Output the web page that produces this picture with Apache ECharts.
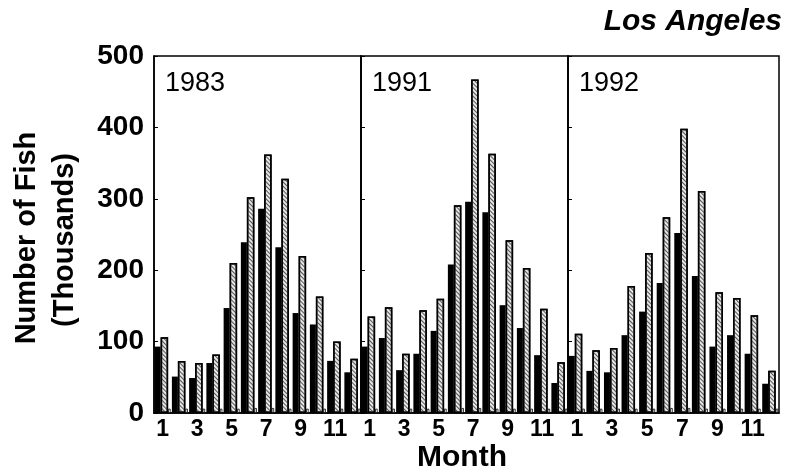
<!DOCTYPE html>
<html>
<head>
<meta charset="utf-8">
<script src="https://cdn.jsdelivr.net/npm/echarts@6/dist/echarts.min.js"></script>
<style>
html,body{margin:0;padding:0;background:#fff;}
#c{width:787px;height:475px;}
</style>
</head>
<body>
<div id="c"></div>
<script>
var months = ['1','2','3','4','5','6','7','8','9','10','11','12'];
var yTicks = [0,100,200,300,400,500];
var years = ['1983','1991','1992'];
var dark1983  = [93,51,49,70,147,239,286,232,140,124,73,57];
var light1983 = [106,73,70,82,210,302,362,328,220,163,100,76];
var small1983 = [6,6,6,6,6,7,7,6,6,6,6,6];
var dark1991  = [93,105,60,83,115,208,296,281,151,119,81,42];
var light1991 = [135,148,83,144,160,291,467,363,242,203,146,71];
var small1991 = [6,6,6,6,6,7,7,6,6,6,6,6];
var dark1992  = [80,59,57,109,142,182,252,192,93,109,83,41];
var light1992 = [111,88,91,178,224,274,398,311,169,161,137,59];
var small1992 = [6,6,6,6,6,7,7,6,6,6,6,6];

var darkSets = [dark1983, dark1991, dark1992];
var lightSets = [light1983, light1991, light1992];
var smallSets = [small1983, small1991, small1992];

var chart = echarts.init(document.getElementById('c'));
var FONT = '"Liberation Sans", Arial, Helvetica, sans-serif';
var gridLefts = [154, 361, 568];
var gridWidths = [207, 207, 211];
var grids = [], xAxes = [], yAxes = [], series = [], graphics = [];
for (var i = 0; i < 3; i++) {
  grids.push({left: gridLefts[i], width: gridWidths[i], top: 56, height: 357,
    show: true, borderColor: '#000', borderWidth: 1.5, backgroundColor: 'transparent'});
  xAxes.push({type: 'category', gridIndex: i, data: months,
    axisLine: {show: true, lineStyle: {color: '#000', width: 1.5}},
    axisTick: {show: false},
    axisLabel: {interval: 1, color: '#000', fontFamily: FONT, fontWeight: 'bold', fontSize: 23, margin: 5}
  });
  yAxes.push({type: 'value', gridIndex: i, min: 0, max: 500, interval: 100,
    axisLine: {show: true, lineStyle: {color: '#000', width: 1.5}},
    axisTick: {show: true, inside: true, length: 4, lineStyle: {color: '#000'}},
    splitLine: {show: false},
    axisLabel: {show: i === 0, color: '#000', fontFamily: FONT, fontWeight: 'bold', fontSize: 28, margin: 10,
      formatter: function (v) { return yTicks.indexOf(v) >= 0 ? String(v) : ''; }}
  });
  series.push({type: 'bar', xAxisIndex: i, yAxisIndex: i, data: darkSets[i], barWidth: 6, barGap: '0%',
    itemStyle: {color: '#000'}, silent: true});
  series.push({type: 'bar', xAxisIndex: i, yAxisIndex: i, data: lightSets[i], barWidth: 7.5, barGap: '0%',
    itemStyle: {color: '#e6e6e6', borderColor: '#000', borderWidth: 1.5,
      decal: {symbol: 'rect', symbolSize: 1, dashArrayX: [1, 0], dashArrayY: [1, 1.5], rotation: Math.PI / 4, color: '#555'}},
    silent: true});
  series.push({type: 'bar', xAxisIndex: i, yAxisIndex: i, data: smallSets[i], barWidth: 2.5, barGap: '0%',
    itemStyle: {color: '#fff', borderColor: '#000', borderWidth: 0.8}, silent: true});
  graphics.push({type: 'text', left: gridLefts[i] + 11, top: 70,
    style: {text: years[i], fontFamily: FONT, fontSize: 27, fill: '#000'}});
}
graphics.push({type: 'text', right: 5, top: 7,
  style: {text: 'Los Angeles', fontFamily: FONT, fontSize: 30, fontWeight: 'bold', fontStyle: 'italic', fill: '#000'}});
graphics.push({type: 'text', x: 27, y: 238, rotation: Math.PI / 2,
  style: {text: 'Number of Fish', fontFamily: FONT, fontSize: 29, fontWeight: 'bold', fill: '#000', align: 'center', verticalAlign: 'middle'}});
graphics.push({type: 'text', x: 65, y: 240, rotation: Math.PI / 2,
  style: {text: '(Thousands)', fontFamily: FONT, fontSize: 29, fontWeight: 'bold', fill: '#000', align: 'center', verticalAlign: 'middle'}});
graphics.push({type: 'text', x: 462, y: 458,
  style: {text: 'Month', fontFamily: FONT, fontSize: 30, fontWeight: 'bold', fill: '#000', align: 'center', verticalAlign: 'middle'}});

chart.setOption({
  animation: false,
  backgroundColor: '#fff',
  grid: grids,
  xAxis: xAxes,
  yAxis: yAxes,
  series: series,
  graphic: graphics
});
</script>
</body>
</html>
